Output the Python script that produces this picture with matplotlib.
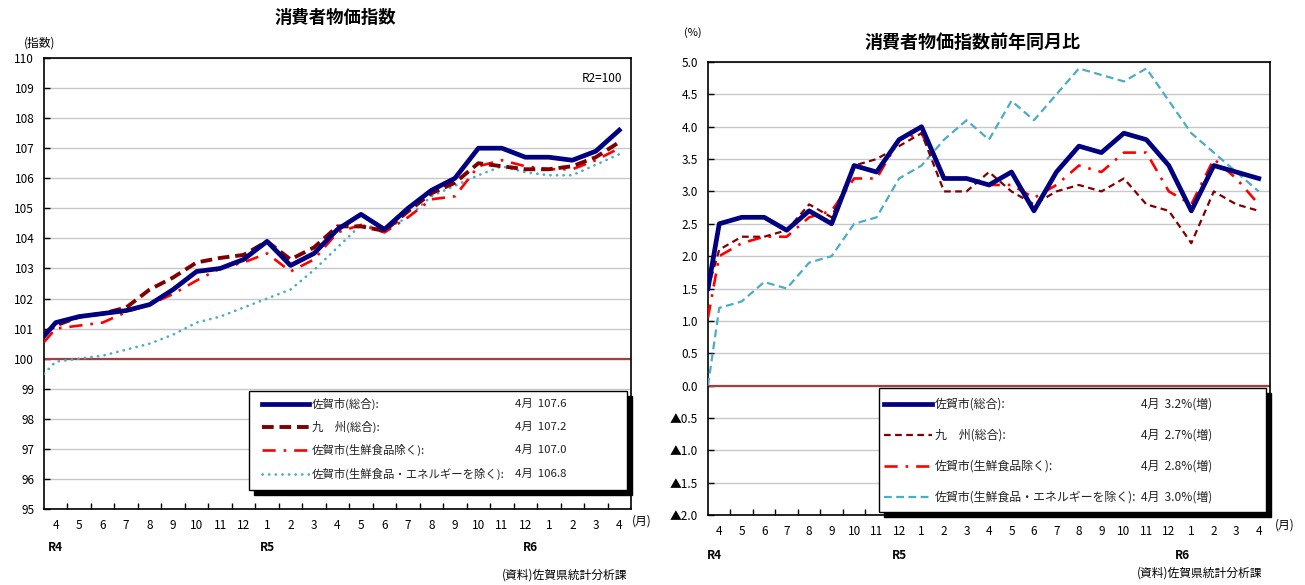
import matplotlib
matplotlib.use("Agg")
import numpy as np
import matplotlib.pyplot as plt
from matplotlib.patches import Rectangle
from matplotlib.lines import Line2D

plt.rcParams["font.family"] = ["Noto Sans CJK JP", "DejaVu Sans"]

LARGEUR, HAUTEUR = 1305, 585

# libellés de l'axe des x (avril R4 -> avril R6)
mois = ["4", "5", "6", "7", "8", "9", "10", "11", "12", "1", "2", "3",
        "4", "5", "6", "7", "8", "9", "10", "11", "12", "1", "2", "3", "4"]
annees = ["R4", "R5", "R6"]

indice_saga = [100.75, 101.2, 101.4, 101.5, 101.6, 101.8, 102.3, 102.9, 103.0, 103.3,
               103.9, 103.1, 103.5, 104.3, 104.8, 104.3, 105.0, 105.6, 106.0, 107.0,
               107.0, 106.7, 106.7, 106.6, 106.9, 107.6]
indice_kyushu = [100.85, 101.1, 101.4, 101.5, 101.7, 102.3, 102.7, 103.2, 103.35, 103.45,
                 103.9, 103.3, 103.7, 104.4, 104.4, 104.25, 104.9, 105.5, 105.85, 106.5,
                 106.4, 106.3, 106.3, 106.4, 106.7, 107.2]
indice_sans_frais = [100.55, 101.0, 101.1, 101.2, 101.55, 101.8, 102.15, 102.6, 103.0, 103.2,
                     103.5, 102.9, 103.3, 104.2, 104.45, 104.2, 104.7, 105.3, 105.4, 106.4,
                     106.6, 106.4, 106.3, 106.3, 106.6, 107.0]
indice_sans_energie = [99.5, 99.9, 100.0, 100.1, 100.3, 100.5, 100.8, 101.2, 101.4, 101.7,
                       102.0, 102.3, 102.95, 103.7, 104.45, 104.3, 104.7, 105.4, 105.75, 106.1,
                       106.4, 106.2, 106.1, 106.1, 106.45, 106.8]

# variation sur un an (%)
taux_saga = [1.5, 2.5, 2.6, 2.6, 2.4, 2.7, 2.5, 3.4, 3.3, 3.8, 4.0, 3.2, 3.2, 3.1,
             3.3, 2.7, 3.3, 3.7, 3.6, 3.9, 3.8, 3.4, 2.7, 3.4, 3.3, 3.2]
taux_kyushu = [1.5, 2.1, 2.3, 2.3, 2.4, 2.8, 2.6, 3.4, 3.5, 3.7, 3.9, 3.0, 3.0, 3.3,
               3.0, 2.8, 3.0, 3.1, 3.0, 3.2, 2.8, 2.7, 2.2, 3.0, 2.8, 2.7]
taux_sans_frais = [1.05, 2.0, 2.2, 2.3, 2.3, 2.6, 2.7, 3.2, 3.2, 3.8, 3.9, 3.2, 3.2, 3.1,
                   3.1, 2.9, 3.1, 3.4, 3.3, 3.6, 3.6, 3.0, 2.8, 3.5, 3.2, 2.8]
taux_sans_energie = [0.0, 1.2, 1.3, 1.6, 1.5, 1.9, 2.0, 2.5, 2.6, 3.2, 3.4, 3.8, 4.1, 3.8,
                     4.4, 4.1, 4.5, 4.9, 4.8, 4.7, 4.9, 4.4, 3.9, 3.6, 3.3, 3.0]

noms = ["佐賀市(総合):", "九　州(総合):", "佐賀市(生鮮食品除く):",
        "佐賀市(生鮮食品・エネルギーを除く):"]
valeurs_indice = ["4月  107.6", "4月  107.2", "4月  107.0", "4月  106.8"]
valeurs_taux = ["4月  3.2%(増)", "4月  2.7%(増)", "4月  2.8%(増)", "4月  3.0%(増)"]

BLEU = "#000080"
BORDEAUX = "#800000"
ROUGE = "#ff0000"
BLEU_CLAIR = "#4bacc6"

styles_gauche = [
    dict(color=BLEU, lw=3.4, solid_joinstyle="round"),
    dict(color=BORDEAUX, lw=2.8, dashes=(3, 1.5)),
    dict(color=ROUGE, lw=1.9, dashes=(5, 3, 1, 3)),
    dict(color=BLEU_CLAIR, lw=1.9, dashes=(0.1, 2.4), dash_capstyle="round"),
]
styles_droite = [
    dict(color=BLEU, lw=3.4, solid_joinstyle="round"),
    dict(color=BORDEAUX, lw=1.6, dashes=(3, 2)),
    dict(color=ROUGE, lw=1.9, dashes=(5, 3, 1, 3)),
    dict(color=BLEU_CLAIR, lw=1.6, dashes=(3.5, 2)),
]


def rect_px(x0, y0, x1, y1):
    # convertit un cadre en pixels (haut-gauche / bas-droite) en fractions de figure
    return [x0 / LARGEUR, 1 - y1 / HAUTEUR, (x1 - x0) / LARGEUR, (y1 - y0) / HAUTEUR]


def preparer_axe(ax, ticks_y, labels_y):
    n = len(mois)
    ax.set_xlim(-0.5, n - 0.5)
    ax.set_xticks(np.arange(n))
    ax.set_xticklabels(mois, fontsize=8.5)
    ax.set_xticks(np.arange(n - 1) + 0.5, minor=True)
    ax.tick_params(axis="x", which="major", length=0, pad=7)
    ax.tick_params(axis="x", which="minor", direction="in", length=4, width=1)
    ax.set_yticks(ticks_y)
    ax.set_yticklabels(labels_y, fontsize=8.5)
    ax.tick_params(axis="y", direction="in", length=4, width=1, pad=7)
    ax.yaxis.grid(True, color="#c8c8c8", lw=1)
    ax.set_axisbelow(True)
    for cote in ax.spines.values():
        cote.set_linewidth(1.2)


def tracer_series(ax, series, styles):
    x = np.r_[-0.5, np.arange(len(mois))]
    # ordre inverse pour que la série principale soit au-dessus
    for valeurs, style in reversed(list(zip(series, styles))):
        ax.plot(x, valeurs, zorder=3, **style)


def dessiner_legende(ax, cadre, lignes_y, x_trait, x_texte, x_valeur, valeurs, styles, taille):
    # légende faite à la main : cadre blanc avec ombre noire
    x0, y0, x1, y1 = cadre
    bbox = ax.get_position()
    dx = 5 / (bbox.width * LARGEUR)
    dy = 5 / (bbox.height * HAUTEUR)
    ax.add_patch(Rectangle((x0 + dx, y0 - dy), x1 - x0, y1 - y0, transform=ax.transAxes,
                           facecolor="black", edgecolor="black", zorder=5, clip_on=False))
    ax.add_patch(Rectangle((x0, y0), x1 - x0, y1 - y0, transform=ax.transAxes,
                           facecolor="white", edgecolor="black", lw=1, zorder=6, clip_on=False))
    for nom, valeur, style, y in zip(noms, valeurs, styles, lignes_y):
        ax.add_line(Line2D(x_trait, [y, y], transform=ax.transAxes, zorder=7,
                           clip_on=False, **style))
        ax.text(x_texte, y, nom, transform=ax.transAxes, fontsize=taille,
                ha="left", va="center", zorder=7, color="#222222")
        ax.text(x_valeur, y, valeur, transform=ax.transAxes, fontsize=taille,
                ha="left", va="center", zorder=7, color="#222222")


fig = plt.figure(figsize=(LARGEUR / 100, HAUTEUR / 100), dpi=100)

# graphe de gauche : indice
ax1 = fig.add_axes(rect_px(44, 58, 631, 509))
ticks1 = np.arange(95, 111)
preparer_axe(ax1, ticks1, [str(t) for t in ticks1])
ax1.set_ylim(95, 110)
ax1.axhline(100, color="#a04040", lw=1.6, zorder=2)
tracer_series(ax1, [indice_saga, indice_kyushu, indice_sans_frais, indice_sans_energie],
              styles_gauche)
dessiner_legende(ax1, (0.350, 0.042, 0.993, 0.262), [0.233, 0.182, 0.131, 0.078],
                 [0.372, 0.452], 0.456, 0.802, valeurs_indice, styles_gauche, 8.2)
ax1.text(0.985, 0.97, "R2=100", transform=ax1.transAxes, ha="right", va="top", fontsize=8.5)
for annee, pos in zip(annees, [0, 9, 20.2]):
    ax1.text(pos, -0.085, annee, transform=ax1.get_xaxis_transform(),
             ha="center", va="center", fontsize=8.5, fontweight="bold")

# graphe de droite : variation sur un an
ax2 = fig.add_axes(rect_px(708, 62, 1270, 515))
ticks2 = np.arange(-2.0, 5.01, 0.5)
labels2 = [f"{t:.1f}" if t >= 0 else "▲" + f"{-t:.1f}" for t in ticks2]
preparer_axe(ax2, ticks2, labels2)
ax2.set_ylim(-2.0, 5.0)
ax2.axhline(0, color="#a04040", lw=1.6, zorder=2)
tracer_series(ax2, [taux_saga, taux_kyushu, taux_sans_frais, taux_sans_energie],
              styles_droite)
dessiner_legende(ax2, (0.304, 0.007, 0.993, 0.281), [0.245, 0.177, 0.108, 0.040],
                 [0.313, 0.399], 0.404, 0.770, valeurs_taux, styles_droite, 8.6)
for annee, pos in zip(annees, [-0.2, 8.0, 20.6]):
    ax2.text(pos, -0.09, annee, transform=ax2.get_xaxis_transform(),
             ha="center", va="center", fontsize=8.5, fontweight="bold")

# titres et annotations
fig.text(335 / LARGEUR, 1 - 18 / HAUTEUR, "消費者物価指数", ha="center", va="center",
         fontsize=12.5, fontweight="bold")
fig.text(972 / LARGEUR, 1 - 42 / HAUTEUR, "消費者物価指数前年同月比", ha="center", va="center",
         fontsize=13, fontweight="bold")
fig.text(40 / LARGEUR, 1 - 43 / HAUTEUR, "(指数)", ha="center", va="center", fontsize=8.5)
fig.text(693 / LARGEUR, 1 - 33 / HAUTEUR, "(%)", ha="center", va="center", fontsize=8)
fig.text(642 / LARGEUR, 1 - 521 / HAUTEUR, "(月)", ha="center", va="center", fontsize=8.5)
fig.text(1285 / LARGEUR, 1 - 525 / HAUTEUR, "(月)", ha="center", va="center", fontsize=8.5)
fig.text(565 / LARGEUR, 1 - 575 / HAUTEUR, "(資料)佐賀県統計分析課", ha="center", va="center",
         fontsize=8.5)
fig.text(1200 / LARGEUR, 1 - 573 / HAUTEUR, "(資料)佐賀県統計分析課", ha="center", va="center",
         fontsize=8.5)

fig.savefig("out.png", dpi=100)
